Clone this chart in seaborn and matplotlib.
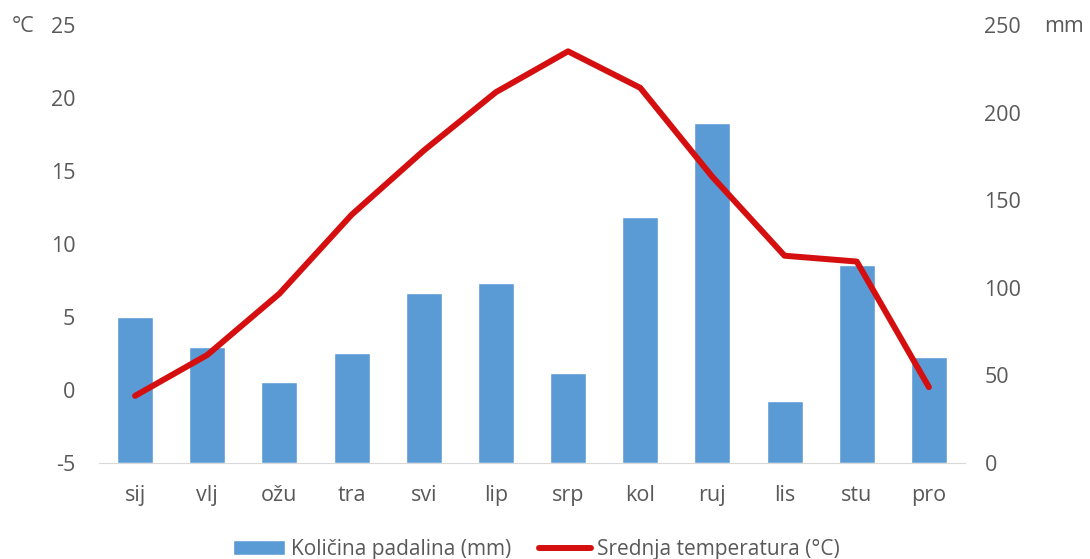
import numpy as np
import matplotlib.pyplot as plt
import seaborn as sns

# data
months = ["sij", "vlj", "ožu", "tra", "svi", "lip", "srp", "kol", "ruj", "lis", "stu", "pro"]
rain_mm = [83.5, 66.4, 46.1, 63.0, 97.2, 102.9, 51.5, 140.6, 194.2, 35.6, 113.2, 60.7]
temp_c = [-0.4, 2.4, 6.6, 12.0, 16.4, 20.4, 23.2, 20.7, 14.6, 9.2, 8.8, 0.2]

bar_color = "#5B9BD5"
line_color = "#D50F0F"
text_color = "#595959"

sns.set_style("white")
plt.rcParams["font.family"] = ["Open Sans", "DejaVu Sans"]
plt.rcParams["axes.unicode_minus"] = False

fig = plt.figure(figsize=(10.9, 5.59), dpi=100)
ax = fig.add_axes([0.0908, 0.1717, 0.7945, 0.7835])

# bars on the primary axes (mm, shown on the right)
sns.barplot(x=months, y=rain_mm, ax=ax, color=bar_color, width=0.5,
            saturation=1, label="Količina padalina (mm)")
ax.set_ylim(0, 250)
ax.set_yticks(range(0, 251, 50))
ax.set_xlim(-0.5, len(months) - 0.5)
if ax.get_legend() is not None:
    ax.get_legend().remove()

# temperature line on the twin (°C, shown on the left) so it sits above the bars
ax2 = ax.twinx()
sns.lineplot(x=np.arange(len(months)), y=temp_c, ax=ax2, color=line_color,
             linewidth=4.3, label="Srednja temperatura (°C)", legend=False)
ax2.set_ylim(-5, 25)
ax2.set_yticks(range(-5, 26, 5))
ax2.set_xlim(-0.5, len(months) - 0.5)

# swap sides after twinx (twinx resets them)
ax.yaxis.tick_right()
ax2.yaxis.tick_left()

for a in (ax, ax2):
    for s in a.spines.values():
        s.set_visible(False)
    a.tick_params(length=0, labelsize=15.5, colors=text_color)
    a.set_xlabel("")
    a.set_ylabel("")
ax.spines["bottom"].set_visible(True)
ax.spines["bottom"].set_color("#D9D9D9")
ax.tick_params(axis="y", pad=14)
ax2.tick_params(axis="y", pad=17)
ax.tick_params(axis="x", pad=16)

fig.text(0.011, 0.952, "°C", fontsize=15.5, color=text_color, va="center")
fig.text(0.958, 0.952, "mm", fontsize=15.5, color=text_color, va="center")

h1, l1 = ax.get_legend_handles_labels()
h2, l2 = ax2.get_legend_handles_labels()
fig.legend(h1 + h2, l1 + l2, loc="center", bbox_to_anchor=(0.492, 0.017), ncol=2,
           frameon=False, fontsize=15, labelcolor=text_color, handlelength=2.5,
           handletextpad=0.3, columnspacing=1.3)

fig.savefig("out.png", dpi=100)
